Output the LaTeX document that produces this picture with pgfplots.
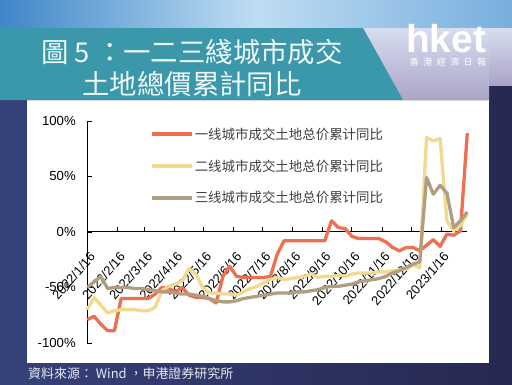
\documentclass[border=0pt]{standalone}
\usepackage{pgfplots}
\pgfplotsset{compat=1.18}
\usepackage{pgfplotstable}
\usepackage{fontspec}
\setmainfont{Liberation Sans}
\newfontfamily\tcfont{Noto Sans CJK TC}
\newfontfamily\scfont{Noto Sans CJK SC}
\definecolor{navyL}{HTML}{36427A}
\definecolor{navyR}{HTML}{262850}
\definecolor{tealbox}{HTML}{3A98AA}
\definecolor{skyA}{HTML}{3F86C8}
\definecolor{skyB}{HTML}{BFDDF3}
\definecolor{skyC}{HTML}{78AEDD}
\definecolor{lavA}{HTML}{D6DEF0}
\definecolor{lavB}{HTML}{ABA4C6}
\definecolor{c1}{HTML}{EE7050}
\definecolor{c2}{HTML}{F0DA8E}
\definecolor{c3}{HTML}{B09E80}
\pgfplotstableread{
x a b c
0 -79 -70 -50
7 -76 -59 -45
14 -83 -66 -40
21 -89 -73 -51
28 -89 -71 -50
35 -60 -70 -50
42 -60 -70 -50
49 -60 -70 -51
56 -60 -71 -51
63 -60 -71 -52
70 -56 -68 -53
77 -50 -53 -54
84 -51 -49 -54
91 -54 -47 -55
98 -50 -44 -56
105 -57 -33 -56
112 -59 -38 -57
119 -59 -50 -58
126 -60 -55 -60
133 -64 -55 -62
140 -40 -56 -63
147 -31 -56 -63
154 -40 -57 -62
161 -41 -54 -60
168 -41 -51 -59
175 -41 -49 -58
182 -41 -46 -57
189 -40 -43 -56
196 -20 -41 -55
203 -8 -43 -55
210 -8 -42 -55
217 -8 -41 -54
224 -8 -40 -54
231 -8 -38 -53
238 -8 -41 -52
245 -8 -40 -50
252 10 -40 -49
259 4 -39 -49
266 3 -40 -48
273 -4 -38 -47
280 -6 -37 -45
287 -6 -37 -44
294 -6 -37 -43
301 -6 -36 -42
308 -9 -36 -40
315 -14 -35 -37
322 -17 -34 -35
329 -14 -33 -32
336 -14 -30 -29
343 -17 -32 -27
350 -12 85 49
357 -7 82 34
364 -13 84 42
371 -2 10 35
378 -3 1 4
385 1 6 10
392 89 16 18
}\data
\begin{document}
\begin{tikzpicture}[x=1bp,y=1bp]
\useasboundingbox (0,0) rectangle (512,384);
% background
\shade[left color=navyL,right color=navyR] (0,0) rectangle (512,384);
\shade[left color=skyA,right color=skyC,middle color=skyB] (0,356) rectangle (512,384);
\shade[top color=lavA,bottom color=lavB] (340,284) rectangle (489,356);
\shade[top color=lavA,bottom color=lavB] (489,299) rectangle (512,356);
% title box
\fill[tealbox] (0,356) -- (363,356) -- (403,284) -- (0,284) -- cycle;
\node[text=white!92!tealbox,font=\tcfont\fontsize{27.5}{30}\selectfont] at (192,332) {圖 5 ：一二三綫城市成交};
\node[text=white!92!tealbox,font=\tcfont\fontsize{27.5}{30}\selectfont] at (192,300) {土地總價累計同比};
% logo
\node[anchor=base west,inner sep=0,text=white,font=\bfseries\fontsize{39}{39}\selectfont] at (406,332) {hket};
\node[text=white,inner sep=0,font=\tcfont\fontsize{9}{10}\selectfont] at (448,322) {香\hspace{4.5bp}港\hspace{4.5bp}經\hspace{4.5bp}濟\hspace{4.5bp}日\hspace{4.5bp}報};
% white panel
\fill[white] (27,21) rectangle (489,284);
\draw[black!15,line width=1bp] (27,284) -- (489,284);
% footer
\node[anchor=west,inner sep=0,text=white!88!navyL,font=\tcfont\fontsize{13}{14}\selectfont] at (28,10) {資料來源： Wind ，申港證券研究所};
\begin{axis}[
  at={(90,37)}, anchor=south west, scale only axis,
  width=380bp, height=222bp,
  xmin=0, xmax=392, ymin=-100, ymax=100,
  axis y line=left, axis x line=middle,
  hide obscured x ticks=false, hide obscured y ticks=false,
  axis line style={-, black, line width=0.9bp},
  tick align=inside, major tick length=4.5bp,
  tick style={black, line width=0.8bp},
  xtick={0,31,59,90,120,151,181,212,243,273,304,334,365},
  xticklabels={2022/1/16,2022/2/16,2022/3/16,2022/4/16,2022/5/16,2022/6/16,2022/7/16,2022/8/16,2022/9/16,2022/10/16,2022/11/16,2022/12/16,2023/1/16},
  ytick={-100,-50,0,50,100},
  yticklabels={-100\%,-50\%,0\%,50\%,100\%},
  xticklabel style={xshift=1.5bp, yshift=-19bp, rotate=49, anchor=north east, inner sep=0pt, font=\fontsize{13}{14}\selectfont},
  yticklabel style={font=\fontsize{13.2}{14}\selectfont, xshift=-8bp},
  clip=false,
  legend style={draw=none, fill=none, at={(rel axis cs:0.158,0.984)}, anchor=north west,
    nodes={inner sep=1bp, text=black!75}, row sep=17bp, font=\scfont\fontsize{13.5}{14}\selectfont},
  legend cell align=left,
  legend image code/.code={\draw[#1] (0bp,0bp) -- (40bp,0bp);},
  every axis plot/.append style={line width=3.3bp, line join=round},
]
\addplot[c1, mark=none] table[x=x,y=a] {\data};
\addlegendentry{一线城市成交土地总价累计同比}
\addplot[c2, mark=none] table[x=x,y=b] {\data};
\addlegendentry{二线城市成交土地总价累计同比}
\addplot[c3, mark=none] table[x=x,y=c] {\data};
\addlegendentry{三线城市成交土地总价累计同比}
\end{axis}
\end{tikzpicture}
\end{document}
